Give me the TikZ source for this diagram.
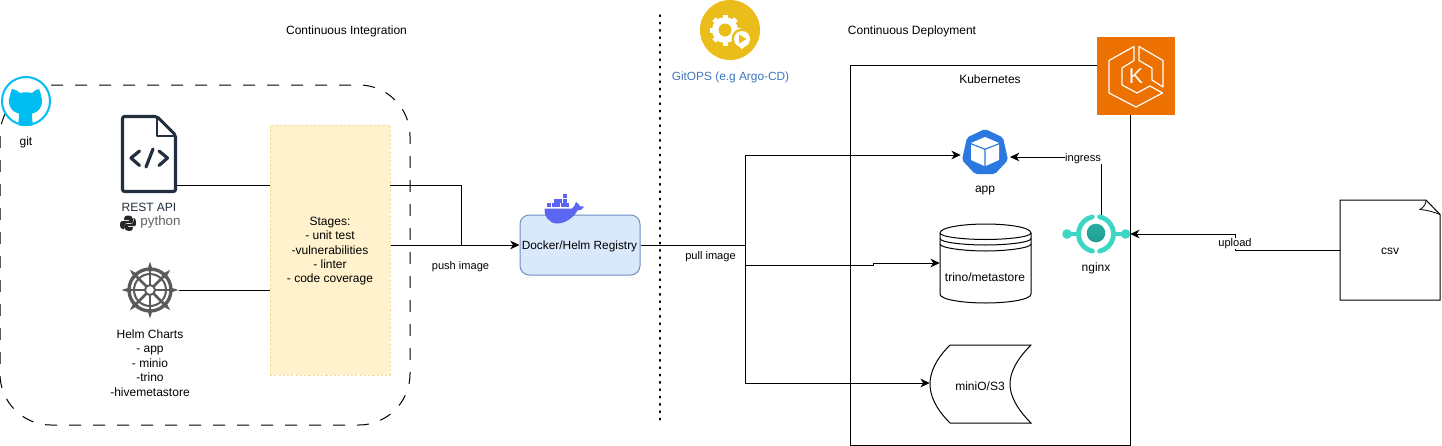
\documentclass[tikz,border=0pt]{standalone}
\usepackage{fontspec}
\setmainfont{Liberation Sans}
\usetikzlibrary{arrows.meta,shapes.geometric,calc}
\definecolor{gitblue}{HTML}{00BEF2}
\definecolor{filedark}{HTML}{232F3E}
\definecolor{helmgray}{HTML}{5A5A5A}
\definecolor{dockerblue}{HTML}{5B67F2}
\definecolor{gitopsyellow}{HTML}{EBBD1B}
\definecolor{gitopsblue}{HTML}{3F76BF}
\definecolor{awsorange}{HTML}{ED7100}
\definecolor{k8sblue}{HTML}{2B78E0}
\definecolor{nginxteal}{HTML}{3DD6C4}
\definecolor{nginxcore}{HTML}{1F9C94}
\definecolor{stagefill}{HTML}{FFF2CC}
\definecolor{stageline}{HTML}{F5DC9A}
\definecolor{regfill}{HTML}{DAE8FC}
\definecolor{regline}{HTML}{6C8EBF}
\tikzset{
  txt/.style={inner sep=0pt,yshift=-1.2pt,font=\fontsize{9pt}{10.8pt}\selectfont,align=center,text=black},
  small/.style={inner sep=0pt,yshift=-1.2pt,font=\fontsize{8.3pt}{10pt}\selectfont,align=center,text=black},
  conn/.style={line width=0.75pt,draw=black},
  arr/.style={conn,-{Stealth[length=7pt,width=6.5pt,inset=2.2pt]}},
}
\begin{document}
\begin{tikzpicture}[x=0.75pt,y=-0.75pt]
\useasboundingbox (0,0) rectangle (1442,446);
\fill[white] (0,0) rectangle (1442,446);

% --- Frames ------------------------------------------------------
\draw[line width=0.75pt,dash pattern=on 9pt off 9pt]
  (51,85) -- (359,85) .. controls (387,85) and (410,108) .. (410,136)
  -- (410,374) .. controls (410,402) and (387,425) .. (359,425)
  -- (51,425) .. controls (23,425) and (0,402) .. (0,374)
  -- (0,136) .. controls (0,108) and (23,85) .. (51,85);
\node[conn,fill=white,minimum width=280*0.75pt,minimum height=380*0.75pt,inner sep=0pt] (kube) at (990,255) {};
\draw[line width=1.1pt,dash pattern=on 1.1pt off 4.4pt,line cap=round] (660,15) -- (660,425);

% --- Titles ------------------------------------------------------
\node[txt] (ci) at (346.5,30) {Continuous Integration};
\node[txt] (cd) at (912,30) {Continuous Deployment};
\node[txt] (kubetitle) at (990,78) {Kubernetes};

% --- git ---------------------------------------------------------
\node[circle,draw=gitblue,fill=white,line width=1.5pt,minimum size=48*0.75pt,inner sep=0pt] (git) at (26,101) {};
\fill[gitblue] (12,89) .. controls (15,89) and (18,91) .. (20,93)
  .. controls (24,92) and (28,92) .. (32,93)
  .. controls (34,91) and (37,89) .. (39,89)
  .. controls (40,91) and (41,94) .. (41,96)
  .. controls (44,102) and (41,112) .. (32,113.5)
  .. controls (32,116) and (32,119) .. (33,125)
  .. controls (28,126.5) and (23,126.5) .. (18,125)
  .. controls (19,119) and (19,116) .. (19,113.5)
  .. controls (10,112) and (7,102) .. (10,96)
  .. controls (10,94) and (11,91) .. (12,89) -- cycle;
\node[txt] (gitlabel) at (26,141) {git};

% --- REST API file icon ------------------------------------------
\draw[filedark,line width=2.3pt,line join=round,rounded corners=1.5pt,fill=white]
  (122.5,116.5) -- (157,116.5) -- (175.5,135) -- (175.5,191.5) -- (122.5,191.5) -- cycle;
\draw[filedark,line width=2.2pt,line join=round] (157,116.5) -- (157,136) -- (175.5,136);
\draw[filedark,line width=2.4pt,line cap=round,line join=round] (139.5,151) -- (131,158) -- (139.5,165.5);
\draw[filedark,line width=2.4pt,line cap=round,line join=round] (159,151) -- (167.5,158) -- (159,165.5);
\draw[filedark,line width=2.4pt,line cap=round] (153,149) -- (146,167);
\coordinate (rest) at (177,185);
\node[txt,text=filedark] (restlabel) at (149,206) {REST API};
\fill[black!85] (128,215.5) .. controls (124,215.5) and (124,218) .. (124,220) -- (129,220) -- (129,221) -- (122,221)
  .. controls (119,221) and (119.5,229) .. (122.5,229) -- (124,229) -- (124,226) .. controls (124,224) and (126,223) .. (128,223)
  -- (132,223) .. controls (133,223) and (133,221) .. (133,219) .. controls (133,216) and (130,215.5) .. (128,215.5) -- cycle;
\fill[black!85] (129,231) .. controls (133,231) and (133,228) .. (133,227) -- (128,227) -- (128,226) -- (135,226)
  .. controls (136.5,226) and (136.5,218) .. (134,218) -- (133.5,218) -- (133.5,221) .. controls (133.5,223) and (132,224) .. (130,224)
  -- (126,224) .. controls (124.5,224) and (124,225) .. (124,227) .. controls (124,230) and (127,231) .. (129,231) -- cycle;
\node[inner sep=0pt,font=\fontsize{10pt}{11pt}\selectfont,text=black!62] (pylabel) at (160.5,222) {python};

% --- Helm wheel ---------------------------------------------------
\coordinate (helmc) at (150,290);
\begin{scope}[helmgray]
  \foreach \a in {0,45,...,315} {
    \draw[line width=1.9pt] (helmc) ++(\a:5) -- ++(\a:15);
    \fill (helmc) ++(\a:19) ++(\a+90:3) -- ++(\a-90:6) -- ($(helmc)+(\a:28.5)$) -- cycle;
  }
  \draw[line width=2.5pt] (helmc) circle (21);
  \draw[line width=1.5pt] (helmc) circle (16);
  \fill[white] (helmc) circle (5);
  \draw[line width=1.5pt] (helmc) circle (5);
\end{scope}
\node[minimum size=58*0.75pt,inner sep=0pt] (helm) at (helmc) {};
\node[txt] (helmlabel) at (150,361.5) {Helm Charts\\- app\\- minio\\-trino\\-hivemetastore};

% --- Connectors under stage box ------------------------------------
\draw[conn] (rest) -- (461,185) -- (461,245);

% --- Stages --------------------------------------------------------
\node[draw=stageline,fill=stagefill,line width=0.75pt,dash pattern=on 1.6pt off 1.6pt,minimum width=120*0.75pt,minimum height=250*0.75pt,inner sep=0pt] (stages) at (330,250) {};
\node[txt] (stagetext) at (330,249.5) {Stages:\\- unit test\\-vulnerabilities\\- linter\\- code coverage};
\draw[conn] (helm.east) -- (stages.west |- helm.east);

% --- Registry -------------------------------------------------------
\node[draw=regline,fill=regfill,line width=0.75pt,rounded corners=7pt,minimum width=120*0.75pt,minimum height=60*0.75pt,inner sep=0pt] (registry) at (580,245) {};
\fill[dockerblue] (544.5,208.5) -- (572,208.5) .. controls (574,208) and (574.5,205) .. (576,202)
  .. controls (578,203) and (579.5,205) .. (580,206.5) .. controls (581.5,206) and (583,206) .. (584,207)
  .. controls (582.5,209.5) and (580,210.5) .. (577.5,210.5) .. controls (574,217) and (566,223.5) .. (557,223.5)
  .. controls (549,223.5) and (544,216) .. (544.5,208.5) -- cycle;
\foreach \px/\py in {564.5/196,555.5/200.5,560/200.5,564.5/200.5,549/205,553.5/205,558/205,562.5/205,567/205}
  \fill[dockerblue] (\px-2,\py-2) rectangle (\px+2,\py+2);
\node[inner sep=0pt,yshift=-0.8pt,font=\fontsize{8.9pt}{11pt}\selectfont] (registrytext) at (579.5,245) {Docker/Helm Registry};
\draw[arr] (stages.east |- registry.west) -- (registry.west);
\node[small] (pushlabel) at (460.5,265) {push image};

% --- GitOps ---------------------------------------------------------
\node[circle,fill=gitopsyellow,minimum size=60*0.75pt,inner sep=0pt] (gitops) at (730,30) {};
\begin{scope}
  \coordinate (gear) at (725,30);
  \foreach \a in {0,45,...,315}
    \fill[white,rotate around={\a:(gear)}] (722.5,14.5) rectangle (727.5,22);
  \fill[white] (gear) circle (13);
  \fill[gitopsyellow] (gear) circle (6.5);
  \fill[gitopsyellow] (742,39) circle (10.5);
  \fill[white] (742,39) circle (8);
  \fill[white] (735.5,43) -- (742,49) -- (748.5,43) -- cycle;
  \fill[gitopsyellow] (739,34.5) -- (746.5,39) -- (739,43.5) -- cycle;
\end{scope}
\node[inner sep=0pt,yshift=-0.6pt,font=\fontsize{8.9pt}{11pt}\selectfont,text=gitopsblue] (gitopslabel) at (730.5,76.5) {GitOPS (e.g Argo-CD)};

% --- Orange EKS icon --------------------------------------------------
\node[fill=awsorange,minimum size=78*0.75pt,inner sep=0pt] (eks) at (1136,76) {};
\begin{scope}[line width=0.9pt,line join=round]
  \draw[white] (1134,46.5) -- (1109,60.5) -- (1109,93) -- (1136,107) -- (1162.5,93) -- (1150,86) -- (1137,93) -- (1122,85) -- (1122,68) -- (1134,60.5) -- cycle;
  \draw[white] (1139,46.5) -- (1163,60.5) -- (1163,87) -- (1152,80) -- (1152,68) -- (1139,60.5) -- cycle;
  \node[white,inner sep=0pt,font=\fontsize{16pt}{16pt}\selectfont] (ekslabel) at (1136,76) {K};
\end{scope}

% --- app (kubernetes) ---------------------------------------------------
\fill[k8sblue,rounded corners=1.5pt] (985,129) -- (1003,137.5) -- (1008,160) -- (995,174) -- (975,174) -- (962,160) -- (967,137.5) -- cycle;
\node[minimum width=48*0.75pt,minimum height=46*0.75pt,inner sep=0pt] (app) at (985,155) {};
\fill[white] (971,143) -- (985,137) -- (999,143) -- (985,148.5) -- cycle;
\fill[white] (971,144.5) -- (984.4,149.8) -- (984.4,166) -- (971,160) -- cycle;
\fill[white] (999,144.5) -- (985.6,149.8) -- (985.6,166) -- (999,160) -- cycle;
\node[txt] (applabel) at (985,189) {app};

% --- nginx -----------------------------------------------------------------
\coordinate (nc) at (1096,234);
\draw[nginxteal,line width=3.6pt,line cap=round] ($(nc)+(-78:17.5)$) arc (-78:78:17.5);
\draw[nginxteal,line width=3.6pt,line cap=round] ($(nc)+(102:17.5)$) arc (102:258:17.5);
\draw[nginxteal,line width=2.6pt] (1067,234) -- (1080,234) (1112,234) -- (1126,234);
\fill[nginxteal] (1067,234) circle (4.8) (1125.5,234) circle (4.8);
\shade[top color=nginxcore!70!nginxteal,bottom color=nginxcore] (1096,233) circle (9.3);
\node[minimum width=68*0.75pt,minimum height=44*0.75pt,inner sep=0pt] (nginx) at (1096,234) {};
\node[txt] (nginxlabel) at (1096,267) {nginx};

% --- trino cylinder -----------------------------------------------------------
\node[minimum width=91*0.75pt,minimum height=79*0.75pt,inner sep=0pt] (trino) at (985.5,263) {};
\draw[conn,fill=white] (940,233) .. controls (940,227) and (965,224) .. (985.5,224) .. controls (1006,224) and (1031,227) .. (1031,233)
  -- (1031,294) .. controls (1031,300) and (1006,303) .. (985.5,303) .. controls (965,303) and (940,300) .. (940,294) -- cycle;
\draw[conn] (940,233) .. controls (940,237) and (965,239.5) .. (985.5,239.5) .. controls (1006,239.5) and (1031,237) .. (1031,233);
\draw[conn] (940,238.5) .. controls (940,242.5) and (965,245) .. (985.5,245) .. controls (1006,245) and (1031,242.5) .. (1031,238.5);
\draw[conn] (940,244) .. controls (940,248) and (965,251) .. (985.5,251) .. controls (1006,251) and (1031,248) .. (1031,244);
\node[txt] (trinolabel) at (985,276) {trino/metastore};

% --- miniO ---------------------------------------------------------------------
\node[minimum width=101*0.75pt,minimum height=77*0.75pt,inner sep=0pt] (minio) at (980.5,384) {};
\draw[conn,fill=white] (950,345) -- (1031,345) .. controls (1017,359) and (1010,372) .. (1010,384) .. controls (1010,396) and (1017,409) .. (1031,423)
  -- (950,423) .. controls (936,409) and (930,396) .. (930,384) .. controls (930,372) and (936,359) .. (950,345) -- cycle;
\node[txt] (miniolabel) at (980,385) {miniO/S3};

% --- csv ---------------------------------------------------------------------------
\node[minimum width=100*0.75pt,minimum height=100*0.75pt,inner sep=0pt] (csv) at (1390,250) {};
\draw[conn,fill=white] (1340,200) -- (1426,200) -- (1440,214.5) -- (1440,300) -- (1340,300) -- cycle;
\draw[conn,line width=0.6pt] (1426,200) .. controls (1426,204) and (1424,207) .. (1420,209.5) .. controls (1427,210) and (1434,212) .. (1440,214.5);
\node[txt] (csvlabel) at (1390,250) {csv};

% --- Connectors ---------------------------------------------------------------------
\coordinate (pullj) at (745,245);
\draw[conn] (registry.east) -- (pullj);
\draw[arr] (pullj) -- (745,155) -- (app.west);
\draw[arr] (745,265) -- (873,265) -- (873,263) -- (trino.west);
\draw[arr] (pullj) -- (745,383) -- (minio.west |- 0,383);
\node[small,fill=white,inner xsep=1pt,inner ysep=0.5pt] (pulllabel) at (710.5,255) {pull image};

\draw[conn] (1101,215) -- (1101,164);
\draw[arr] (1066,157) -- (1010,157);
\node[small,fill=white,inner xsep=0.5pt,inner ysep=0.5pt] (ingresslabel) at (1083,157) {ingress};

\draw[conn] (csv.west) -- (1235,250) -- (1235,234);
\draw[arr] (1235,234) -- (nginx.east);
\node[small,fill=white,inner xsep=1pt,inner ysep=0.5pt] (uploadlabel) at (1235,242) {upload};
\end{tikzpicture}
\end{document}
